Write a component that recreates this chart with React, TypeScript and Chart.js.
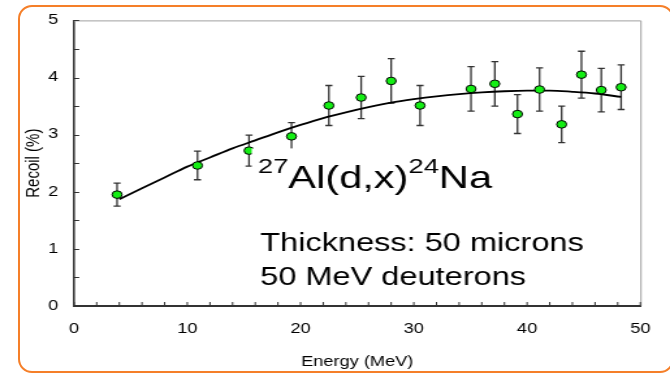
import React, { useEffect, useRef } from 'react';
import { Chart, registerables } from 'chart.js';

Chart.register(...registerables);

// ---- data ----
const energies = [3.8, 10.9, 15.45, 19.2, 22.5, 25.35, 28.0, 30.55, 35.05, 37.15, 39.15, 41.1, 43.05, 44.8, 46.55, 48.3];
const recoil = [1.95, 2.46, 2.72, 2.97, 3.51, 3.65, 3.94, 3.51, 3.80, 3.89, 3.36, 3.79, 3.18, 4.05, 3.78, 3.83];
const recoilErr = [0.2, 0.25, 0.27, 0.24, 0.35, 0.37, 0.39, 0.35, 0.39, 0.39, 0.34, 0.38, 0.32, 0.41, 0.38, 0.39];

const fitEnergies = [4, 6, 8, 10, 12, 14, 16, 18, 20, 22, 24, 26, 28, 30, 32, 34, 36, 38, 40, 42, 44, 46, 48.3];
const fitRecoil = [1.87, 2.06, 2.25, 2.44, 2.6, 2.76, 2.9, 3.04, 3.17, 3.29, 3.39, 3.48, 3.56, 3.62, 3.67, 3.71, 3.74, 3.76, 3.77, 3.77, 3.75, 3.72, 3.66];

const xMin = 0, xMax = 50, xStep = 10, xMinorStep = 2;
const yMin = 0, yMax = 5, yStep = 1, yMinorStep = 0.5;

const xTitle = 'Energy (MeV)';
const yTitle = 'Recoil (%)';
const reactionParts = ['27', 'Al(d,x)', '24', 'Na'];
const noteLines = ['Thickness: 50 microns', '50 MeV deuterons'];

const FONT = "'Liberation Sans', Arial, Helvetica, sans-serif";
const BASE_W = 515;
const STRETCH = 670 / BASE_W;

const decorPlugin = {
  id: 'decor',
  beforeDatasetsDraw(chart: any) {
    const { ctx, chartArea: a, scales } = chart;
    const xs = scales.x, ys = scales.y;
    ctx.save();
    // top / right frame
    ctx.strokeStyle = '#a0a0a0';
    ctx.lineWidth = 1;
    ctx.beginPath();
    ctx.moveTo(a.left, a.top + 0.5);
    ctx.lineTo(a.right + 0.5, a.top + 0.5);
    ctx.lineTo(a.right + 0.5, a.bottom);
    ctx.stroke();
    // inward tick marks
    ctx.strokeStyle = '#333';
    ctx.lineWidth = 1;
    ctx.beginPath();
    for (let v = yMin; v <= yMax + 1e-9; v += yMinorStep) {
      const py = Math.round(ys.getPixelForValue(v)) + 0.5;
      ctx.moveTo(a.left, py);
      ctx.lineTo(a.left + 4, py);
    }
    for (let v = xMin; v <= xMax + 1e-9; v += xMinorStep) {
      const px = xs.getPixelForValue(v);
      ctx.moveTo(px, a.bottom);
      ctx.lineTo(px, a.bottom - 4);
    }
    ctx.stroke();
    // error bars
    ctx.strokeStyle = '#333';
    ctx.lineWidth = 1.3;
    ctx.beginPath();
    for (let i = 0; i < energies.length; i++) {
      const px = xs.getPixelForValue(energies[i]);
      const pt = ys.getPixelForValue(recoil[i] + recoilErr[i]);
      const pb = ys.getPixelForValue(recoil[i] - recoilErr[i]);
      ctx.moveTo(px, pt);
      ctx.lineTo(px, pb);
      ctx.moveTo(px - 2.7, pt);
      ctx.lineTo(px + 2.7, pt);
      ctx.moveTo(px - 2.7, pb);
      ctx.lineTo(px + 2.7, pb);
    }
    ctx.stroke();
    ctx.restore();
  },
  afterDatasetsDraw(chart: any) {
    const { ctx, chartArea: a } = chart;
    ctx.save();
    // text box (white background) placed relative to the plot area
    const bx = a.left + 136.6;
    const by = a.top + 128;
    ctx.fillStyle = '#ffffff';
    ctx.fillRect(bx, by, 272, 150);
    ctx.fillStyle = '#000';
    ctx.textBaseline = 'alphabetic';
    // reaction label with superscripts
    let x = a.left + 141.3;
    const base = a.top + 167.7;
    const sup = base - 15.2;
    const big = `32px ${FONT}`;
    const small = `21px ${FONT}`;
    reactionParts.forEach((t, i) => {
      const isSup = i % 2 === 0;
      ctx.font = isSup ? small : big;
      ctx.fillText(t, x, isSup ? sup : base);
      x += ctx.measureText(t).width;
    });
    ctx.font = `25px ${FONT}`;
    noteLines.forEach((t, i) => {
      ctx.fillText(t, a.left + 143.1, a.top + 230.3 + i * 34);
    });
    ctx.restore();
  },
};

export default function App() {
  const ref = useRef<HTMLCanvasElement | null>(null);
  useEffect(() => {
    if (!ref.current) return;
    const chart = new Chart(ref.current, {
      type: 'scatter',
      data: {
        datasets: [
          {
            label: 'data',
            data: energies.map((e, i) => ({ x: e, y: recoil[i] })),
            backgroundColor: '#14ee14',
            borderColor: '#000',
            borderWidth: 1,
            pointRadius: 3.8,
            showLine: false,
            order: 0,
          },
          {
            label: 'fit',
            data: fitEnergies.map((e, i) => ({ x: e, y: fitRecoil[i] })),
            showLine: true,
            borderColor: '#000',
            borderWidth: 1.8,
            pointRadius: 0,
            cubicInterpolationMode: 'monotone',
            order: 1,
          } as any,
        ],
      },
      options: {
        animation: false,
        responsive: true,
        maintainAspectRatio: false,
        layout: { padding: { left: 0, right: BASE_W - 496.9, top: 19, bottom: 0 } },
        plugins: { legend: { display: false }, tooltip: { enabled: false } },
        scales: {
          x: {
            type: 'linear',
            min: xMin,
            max: xMax,
            ticks: { stepSize: xStep, padding: 15, color: '#000', font: { size: 14, family: FONT } },
            grid: { display: false, drawTicks: false },
            border: { display: true, color: '#333', width: 2 },
            title: { display: true, text: xTitle, color: '#000', font: { size: 14, family: FONT }, padding: { top: 0, bottom: 2 } },
            afterFit: (s: any) => { s.height = 67; },
          },
          y: {
            type: 'linear',
            min: yMin,
            max: yMax,
            ticks: { stepSize: yStep, padding: 12, color: '#000', font: { size: 14, family: FONT } },
            grid: { display: false, drawTicks: false },
            border: { display: true, color: '#333', width: 1.6 },
            title: { display: true, text: yTitle, color: '#000', font: { size: 15, family: FONT }, padding: { top: 17, bottom: 0 } },
            afterFit: (s: any) => { s.width = 56.9; },
          },
        },
      },
      plugins: [decorPlugin],
    });
    return () => chart.destroy();
  }, []);

  return (
    <div style={{ position: 'fixed', left: 0, top: 0, width: 670, height: 373, overflow: 'hidden', background: '#fff' }}>
      <div
        style={{
          position: 'absolute',
          left: 0,
          top: 0,
          width: BASE_W,
          height: 373,
          transform: `scaleX(${STRETCH})`,
          transformOrigin: '0 0',
        }}
      >
        <canvas ref={ref} />
      </div>
      <div
        style={{
          position: 'absolute',
          left: 18,
          top: 5,
          width: 656,
          height: 368,
          boxSizing: 'border-box',
          border: '2px solid #f57f29',
          borderRadius: 14,
          pointerEvents: 'none',
        }}
      />
    </div>
  );
}
